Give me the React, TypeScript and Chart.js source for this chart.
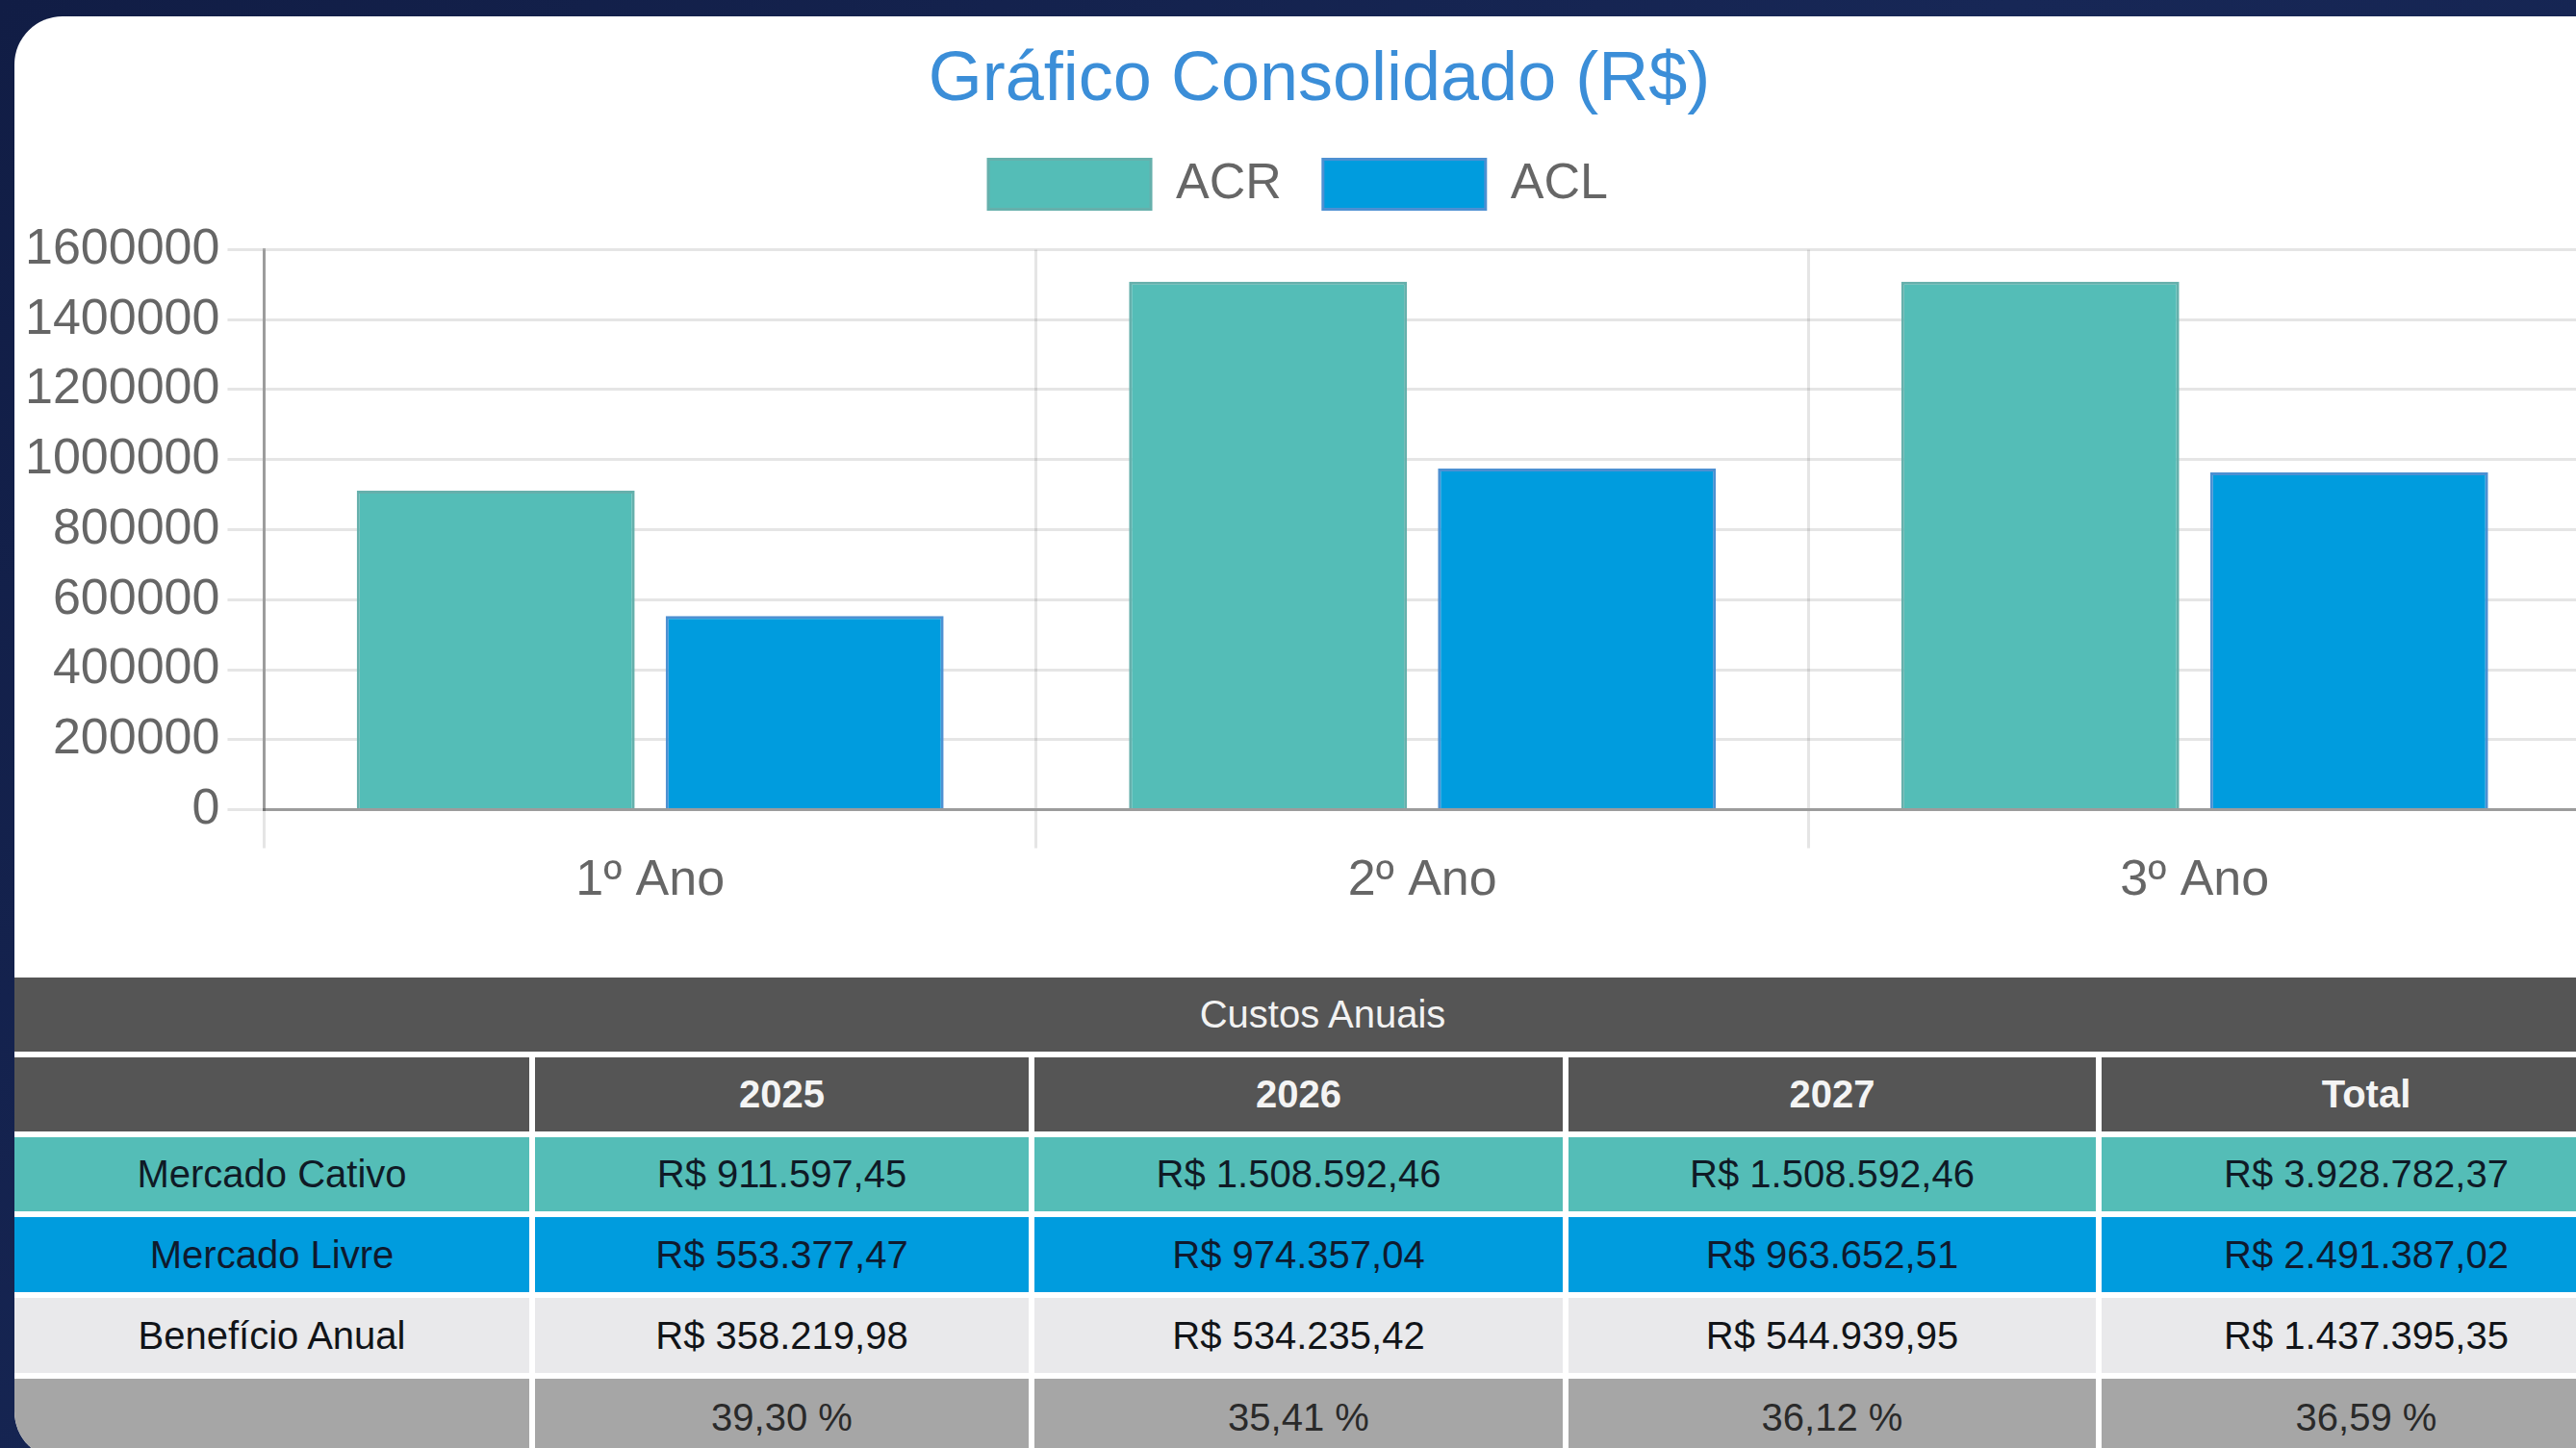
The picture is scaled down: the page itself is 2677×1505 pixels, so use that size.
import React, { useEffect, useRef } from "react";
import { Chart, registerables } from "chart.js";

Chart.register(...registerables);

// ---- data ----
const categories = ["1º Ano", "2º Ano", "3º Ano"];
const acrValues = [911597.45, 1508592.46, 1508592.46];
const aclValues = [553377.47, 974357.04, 963652.51];
const yMin = 0;
const yMax = 1600000;
const yStep = 200000;

const tableTitle = "Custos Anuais";
const tableHeaders = ["", "2025", "2026", "2027", "Total"];
const cativoRow = ["Mercado Cativo", "R$ 911.597,45", "R$ 1.508.592,46", "R$ 1.508.592,46", "R$ 3.928.782,37"];
const livreRow = ["Mercado Livre", "R$ 553.377,47", "R$ 974.357,04", "R$ 963.652,51", "R$ 2.491.387,02"];
const beneficioRow = ["Benefício Anual", "R$ 358.219,98", "R$ 534.235,42", "R$ 544.939,95", "R$ 1.437.395,35"];
const percentRow = ["", "39,30 %", "35,41 %", "36,12 %", "36,59 %"];

const FONT = "'Liberation Sans', Arial, Helvetica, sans-serif";
const TEAL = "#54bdb7";
const BLUE = "#009cde";

// shifts the title / legend horizontally to match the original's centring
const shiftPlugin = {
  id: "shiftBlocks",
  afterLayout(chart: any) {
    const t = chart.titleBlock;
    if (t) {
      t.left += 21;
      t.right += 21;
    }
    const l = chart.legend;
    if (l) {
      l.left -= 1;
      l.right -= 1;
    }
  },
};

function ChartCanvas() {
  const ref = useRef<HTMLCanvasElement | null>(null);
  useEffect(() => {
    if (!ref.current) return;
    const chart = new Chart(ref.current, {
      type: "bar",
      data: {
        labels: categories,
        datasets: [
          {
            label: "ACR",
            data: acrValues,
            backgroundColor: TEAL,
            borderColor: "#66b0ac",
            borderWidth: 3,
          },
          {
            label: "ACL",
            data: aclValues,
            backgroundColor: BLUE,
            borderColor: "#4d90d2",
            borderWidth: 3,
          },
        ],
      },
      plugins: [shiftPlugin],
      options: {
        responsive: false,
        animation: false,
        devicePixelRatio: 1,
        layout: { padding: { left: 3, right: 45, top: 0, bottom: 50 } },
        plugins: {
          title: {
            display: true,
            text: "Gráfico Consolidado (R$)",
            color: "#3b8ed8",
            font: { size: 72, family: FONT, weight: "normal" },
            padding: { top: 24, bottom: -5 },
          },
          subtitle: {
            display: true,
            text: "",
            position: "top",
            weight: 500,
            font: { size: 1, family: FONT, lineHeight: 1 },
            padding: { top: 31, bottom: 0 },
          } as any,
          legend: {
            display: true,
            labels: {
              boxWidth: 169,
              boxHeight: 52,
              padding: 43,
              color: "#666",
              font: { size: 52, family: FONT },
            },
          },
          tooltip: { enabled: false },
        },
        scales: {
          x: {
            grid: {
              offset: true,
              color: "rgba(0,0,0,0.1)",
              lineWidth: 3,
              tickLength: 40,
            },
            border: { color: "rgba(0,0,0,0.32)", width: 3 },
            ticks: {
              color: "#666",
              font: { size: 52, family: FONT },
              padding: 3,
              maxRotation: 0,
            },
          },
          y: {
            min: yMin,
            max: yMax,
            grid: {
              color: "rgba(0,0,0,0.1)",
              lineWidth: 3,
              tickLength: 38,
            },
            border: { color: "rgba(0,0,0,0.32)", width: 3 },
            ticks: {
              stepSize: yStep,
              color: "#666",
              font: { size: 52, family: FONT },
              padding: 8,
              callback: (v: any) => String(v),
            },
          },
        },
      },
    });
    return () => chart.destroy();
  }, []);
  return (
    <canvas
      ref={ref}
      width={2712}
      height={983}
      style={{ position: "absolute", left: 0, top: 0, width: 2712, height: 983 }}
    />
  );
}

const colWidths = [535, 513, 549, 548, 550];

function Row({ cells, bg, color, bold, size }: { cells: string[]; bg: string; color: string; bold?: boolean; size?: number }) {
  return (
    <>
      {cells.map((c, i) => (
        <div
          key={i}
          style={{
            background: bg,
            color,
            fontWeight: bold ? "bold" : "normal",
            fontSize: size || 40,
            display: "flex",
            alignItems: "center",
            justifyContent: "center",
            whiteSpace: "nowrap",
          }}
        >
          {c}
        </div>
      ))}
    </>
  );
}

export default function App() {
  return (
    <div
      style={{
        position: "fixed",
        inset: 0,
        width: 2677,
        height: 1505,
        overflow: "hidden",
        background: "linear-gradient(135deg, #111d45 0%, #172756 50%, #13214c 100%)",
        fontFamily: FONT,
      }}
    >
      <div
        style={{
          position: "absolute",
          left: 15,
          top: 17,
          width: 2712,
          height: 1500,
          background: "#ffffff",
          borderRadius: 50,
          overflow: "hidden",
        }}
      >
        <ChartCanvas />
        <div
          style={{
            position: "absolute",
            left: 0,
            top: 999,
            display: "grid",
            gridTemplateColumns: colWidths.map((w) => w + "px").join(" "),
            gridTemplateRows: "77px 77px 77px 78px 78px 80px",
            columnGap: 6,
            rowGap: 6,
          }}
        >
          <div
            style={{
              gridColumn: "1 / span 5",
              background: "#555555",
              color: "#f2f2f2",
              fontSize: 40,
              display: "flex",
              alignItems: "center",
              justifyContent: "center",
              marginRight: -30,
              paddingRight: 30,
            }}
          >
            {tableTitle}
          </div>
          <Row cells={tableHeaders} bg="#555555" color="#f4f4f4" bold />
          <Row cells={cativoRow} bg={TEAL} color="#0f1a26" />
          <Row cells={livreRow} bg={BLUE} color="#0f1a2e" />
          <Row cells={beneficioRow} bg="#e9e9eb" color="#111418" />
          <Row cells={percentRow} bg="#a6a6a6" color="#2a2a2a" />
        </div>
      </div>
    </div>
  );
}
